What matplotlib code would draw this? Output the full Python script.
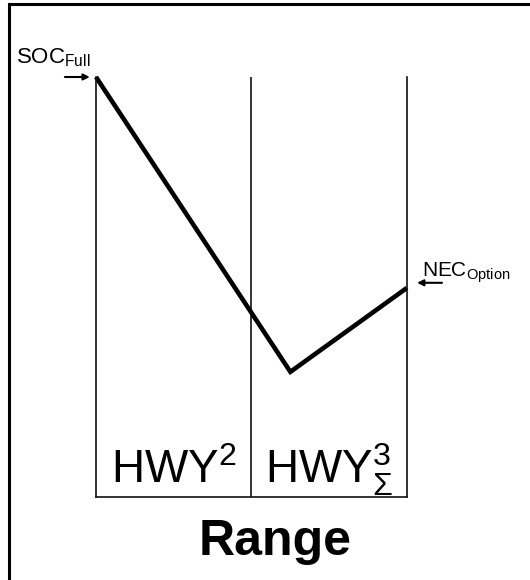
import matplotlib
matplotlib.use("Agg")
import matplotlib.pyplot as plt
from matplotlib.patches import Rectangle

plt.rcParams['font.family'] = ['Liberation Sans', 'DejaVu Sans']
plt.rcParams['mathtext.fontset'] = 'custom'
plt.rcParams['mathtext.rm'] = 'Liberation Sans'
plt.rcParams['mathtext.it'] = 'Liberation Sans'
plt.rcParams['mathtext.bf'] = 'Liberation Sans:bold'

# Data
segment_bounds = [0, 1, 2]
segment_labels = [r'HWY$^{2}$', r'HWY$^{3}_{\Sigma}$']
soc_x = [0, 1.25, 2]
soc_y = [100, 29.8, 49.8]
start_label = r'SOC$_{\mathrm{Full}}$'
end_label = r'NEC$_{\mathrm{Option}}$'
xlabel = 'Range'

W, H = 530, 580
fig = plt.figure(figsize=(W / 100, H / 100), dpi=100)
ax = fig.add_axes([96 / W, (H - 497) / H, 311 / W, 420 / H])
ax.set_xlim(segment_bounds[0], segment_bounds[-1])
ax.set_ylim(0, 100)
ax.set_xticks([])
ax.set_yticks([])
for s in ['left', 'right', 'bottom']:
    ax.spines[s].set_linewidth(1.2)
    ax.spines[s].set_color('#111111')
ax.spines['top'].set_visible(False)
for b in segment_bounds[1:-1]:
    ax.axvline(b, color='#111111', lw=1.2)

ax.plot(soc_x, soc_y, color='black', lw=3.3, clip_on=False,
        solid_joinstyle='miter', solid_capstyle='butt')

for i, lab in enumerate(segment_labels):
    ax.text((segment_bounds[i] + segment_bounds[i + 1]) / 2, 3.3, lab,
            ha='center', va='baseline', fontsize=33)

ax.text(1.15, -13.8, xlabel, ha='center', va='baseline', fontsize=36,
        fontweight='bold')

# Start label and arrow
ax.annotate('', xy=(soc_x[0] - 0.04, soc_y[0]), xytext=(soc_x[0] - 0.2, soc_y[0]),
            arrowprops=dict(arrowstyle='-|>', color='black', lw=1.5,
                            mutation_scale=9, shrinkA=0, shrinkB=0),
            annotation_clip=False)
ax.text(-0.514, 103.3, start_label, ha='left', va='baseline', fontsize=16)

# End label and arrow
ax.annotate('', xy=(soc_x[-1] + 0.065, 51.0), xytext=(soc_x[-1] + 0.225, 51.0),
            arrowprops=dict(arrowstyle='-|>', color='black', lw=1.5,
                            mutation_scale=9, shrinkA=0, shrinkB=0),
            annotation_clip=False)
ax.text(soc_x[-1] + 0.096, 52.4, end_label, ha='left', va='baseline', fontsize=15)

# Outer frame (left and top edges visible)
fig.patches.append(Rectangle((8.5 / W, -0.1), 1.2, (H - 4) / H + 0.1,
                             transform=fig.transFigure, fill=False,
                             edgecolor='black', lw=2.2, figure=fig))

fig.savefig('out.png', dpi=100, facecolor='white')
